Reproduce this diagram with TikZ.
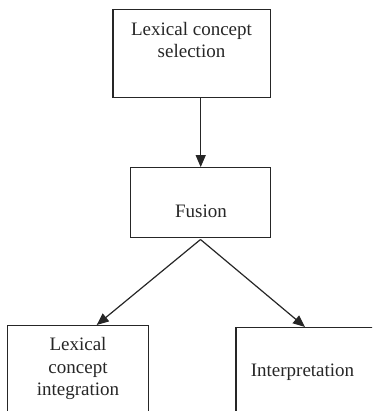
\documentclass[tikz,border=0pt]{standalone}
\usepackage{fontspec}
\setmainfont{Liberation Serif}
\usetikzlibrary{arrows.meta}
\tikzset{
  box/.style={draw=black!85, line width=1.2pt, rectangle, inner sep=0pt},
  lbl/.style={font=\fontsize{19}{22.5}\selectfont, align=center, inner sep=0pt, anchor=base, text=black!85},
  conn/.style={draw=black!85, line width=1.2pt, -{Triangle[length=12pt,width=10pt]}}
}
\begin{document}
\begin{tikzpicture}[x=1pt,y=-1pt]
\useasboundingbox (0,0) rectangle (372,411);
\clip (0,0) rectangle (372,411);
% boxes
\node[box, minimum width=157.7pt, minimum height=88pt] (top) at (191.85,53.7) {};
\node[box, minimum width=140pt, minimum height=70pt] (fus) at (200.7,202.7) {};
\node[box, minimum width=140.6pt, minimum height=110pt] (lb) at (78,380.7) {};
\node[box, minimum width=170pt, minimum height=110pt] (rb) at (321,382.7) {};
% texts (base = baseline of the last line)
\node[lbl] (ttop) at (191.5,58) {Lexical concept\\selection};
\node[lbl] (tfus) at (201,217.5) {Fusion};
\node[lbl] (tlb) at (78,395.5) {Lexical\\concept\\integration};
\node[lbl] (trb) at (302.5,376.7) {Interpretation};
% connectors
\coordinate (apex) at (200.5,239.5);
\coordinate (la) at (96.7,325);
\coordinate (ra) at (305,327);
\draw[conn] (fus.north |- top.south) -- (fus.north);
\draw[conn] (apex) -- (la);
\draw[conn] (apex) -- (ra);
\end{tikzpicture}
\end{document}
